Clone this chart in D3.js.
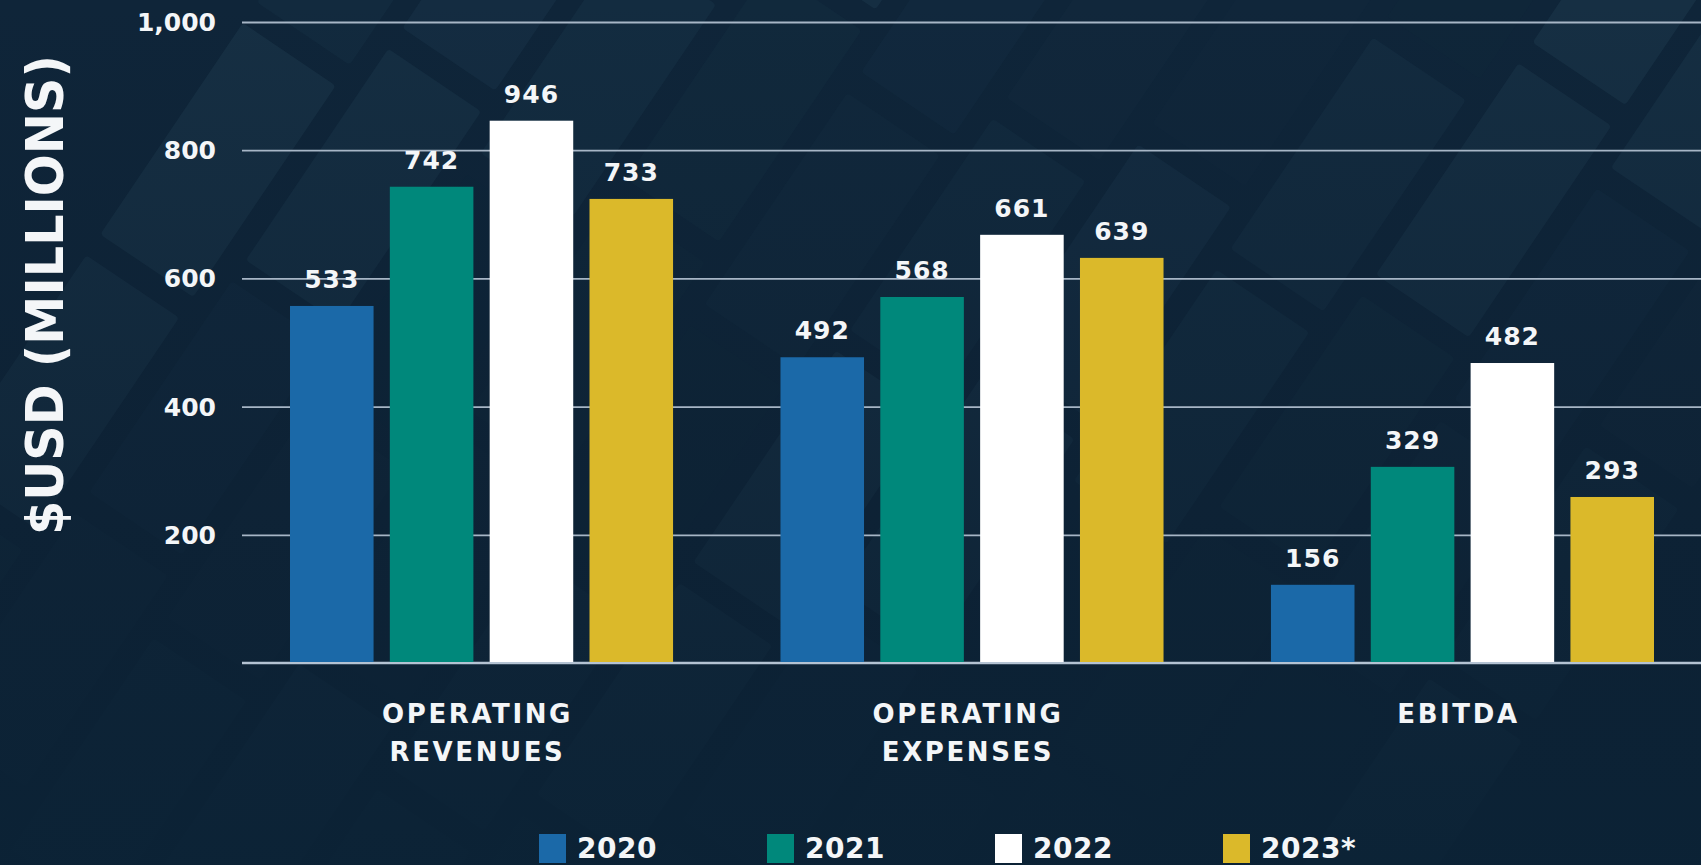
<!DOCTYPE html>
<html>
<head>
<meta charset="utf-8">
<script src="https://cdn.jsdelivr.net/npm/d3@7"></script>
<style>
  html, body { margin: 0; padding: 0; background: #0e2337; overflow: hidden; }
  svg { display: block; }
</style>
</head>
<body>
<div id="chart"></div>
<script>
// Chart data
const categories = [["OPERATING", "REVENUES"], ["OPERATING", "EXPENSES"], ["EBITDA"]];
const years = ["2020", "2021", "2022", "2023*"];
const yearColors = ["#1b69a8", "#00887b", "#ffffff", "#dbb92a"];

// bar heights as drawn in the picture
const bars2020 = [557, 477, 122];
const bars2021 = [743, 571, 306];
const bars2022 = [846, 668, 468];
const bars2023 = [724, 632, 259];

// printed value labels
const labels2020 = [533, 492, 156];
const labels2021 = [742, 568, 329];
const labels2022 = [946, 661, 482];
const labels2023 = [733, 639, 293];

const yTicks = [200, 400, 600, 800, 1000];

const width = 1701;
const height = 865;
const margin = { top: 22, right: 0, bottom: 202, left: 242 };

const svg = d3
  .select("#chart")
  .append("svg")
  .attr("width", width)
  .attr("height", height);

// Background: dark navy with diagonal tiles
const defs = svg.append("defs");
const fade = defs
  .append("linearGradient")
  .attr("id", "fade")
  .attr("x1", 0).attr("y1", 0).attr("x2", 0).attr("y2", 1);
fade.append("stop").attr("offset", "0%").attr("stop-color", "#0b1e30").attr("stop-opacity", 0);
fade.append("stop").attr("offset", "50%").attr("stop-color", "#0b1e30").attr("stop-opacity", 0.4);
fade.append("stop").attr("offset", "100%").attr("stop-color", "#0b2235").attr("stop-opacity", 0.92);

svg.append("rect").attr("width", width).attr("height", height).attr("fill", "#0f2539");

const tileShade = [0.05, 0.35, 0.12, 0.5, 0.2, 0.08, 0.42, 0.15, 0.3, 0.02, 0.25, 0.45, 0.1, 0.38, 0.18];
const tiles = svg.append("g").attr("transform", "translate(850,330) rotate(-56)");
for (let r = -6; r <= 6; r++) {
  for (let c = -5; c <= 5; c++) {
    const k = tileShade[Math.abs(r * 7 + c * 3 + 40) % tileShade.length];
    tiles
      .append("rect")
      .attr("x", r * 280 + (c % 2) * 60)
      .attr("y", c * 135)
      .attr("width", 255)
      .attr("height", 112)
      .attr("rx", 4)
      .attr("fill", "#2f5468")
      .attr("opacity", k * 0.45);
  }
}
svg.append("rect").attr("width", width).attr("height", height).attr("fill", "url(#fade)");

// Scales
const x0 = d3
  .scaleBand()
  .domain(d3.range(categories.length))
  .range([290, 1654])
  .paddingInner(0.219)
  .paddingOuter(0);

const x1 = d3
  .scaleBand()
  .domain(d3.range(years.length))
  .range([0, x0.bandwidth()])
  .paddingInner(0.163)
  .paddingOuter(0);

const y = d3
  .scaleLinear()
  .domain([0, 1000])
  .range([height - margin.bottom, margin.top]);

// Grid + tick labels
const yAxis = svg
  .append("g")
  .attr("transform", `translate(${margin.left},0)`)
  .call(
    d3.axisLeft(y)
      .tickValues(yTicks)
      .tickFormat(d3.format(","))
      .tickSize(-(width - margin.left))
      .tickPadding(26)
  );
yAxis.select(".domain").remove();
yAxis.selectAll(".tick line").attr("stroke", "#a7b6c6").attr("stroke-width", 1.8);
yAxis
  .selectAll(".tick text")
  .attr("fill", "#f4f6f8")
  .attr("font-family", "DejaVu Sans")
  .attr("font-weight", "bold")
  .attr("font-size", 25)
  .attr("dy", "0.34em");

// Baseline
svg
  .append("line")
  .attr("x1", margin.left)
  .attr("x2", width)
  .attr("y1", y(0))
  .attr("y2", y(0))
  .attr("stroke", "#b4c3d3")
  .attr("stroke-width", 2.5);

// Bars
const barSeries = [bars2020, bars2021, bars2022, bars2023];
const labelSeries = [labels2020, labels2021, labels2022, labels2023];

const groups = svg
  .append("g")
  .selectAll("g")
  .data(categories)
  .join("g")
  .attr("transform", (d, i) => `translate(${x0(i)},0)`);

groups
  .selectAll("rect")
  .data((d, i) => years.map((yr, j) => ({ j, v: barSeries[j][i], label: labelSeries[j][i] })))
  .join("rect")
  .attr("x", (d) => x1(d.j))
  .attr("y", (d) => y(d.v))
  .attr("width", x1.bandwidth())
  .attr("height", (d) => y(0) - y(d.v) - 1)
  .attr("fill", (d) => yearColors[d.j]);

// Value labels
groups
  .selectAll("text.val")
  .data((d, i) => years.map((yr, j) => ({ j, v: barSeries[j][i], label: labelSeries[j][i] })))
  .join("text")
  .attr("class", "val")
  .attr("x", (d) => x1(d.j) + x1.bandwidth() / 2)
  .attr("y", (d) => y(d.v) - 18)
  .attr("text-anchor", "middle")
  .attr("fill", "#f4f6f8")
  .attr("font-family", "DejaVu Sans")
  .attr("font-weight", "bold")
  .attr("font-size", 25)
  .attr("letter-spacing", 1)
  .text((d) => d.label);

// Category labels
groups
  .append("text")
  .attr("x", x0.bandwidth() / 2 - 4)
  .attr("y", 723)
  .attr("text-anchor", "middle")
  .attr("fill", "#f4f6f8")
  .attr("font-family", "DejaVu Sans")
  .attr("font-weight", "bold")
  .attr("font-size", 26)
  .attr("letter-spacing", 2.6)
  .selectAll("tspan")
  .data((d) => d)
  .join("tspan")
  .attr("x", x0.bandwidth() / 2 - 4)
  .attr("dy", (d, i) => (i === 0 ? 0 : 37.5))
  .text((d) => d);

// Y axis title
svg
  .append("text")
  .attr("transform", "translate(63,295) rotate(-90)")
  .attr("text-anchor", "middle")
  .attr("fill", "#f4f6f8")
  .attr("font-family", "DejaVu Sans")
  .attr("font-weight", "bold")
  .attr("font-size", 52)
  .attr("textLength", 480)
  .attr("lengthAdjust", "spacingAndGlyphs")
  .text("$USD (MILLIONS)");

// Legend
const legend = svg
  .append("g")
  .selectAll("g")
  .data(years)
  .join("g")
  .attr("transform", (d, i) => `translate(${539 + i * 228},834)`);

legend
  .append("rect")
  .attr("width", 27)
  .attr("height", 29)
  .attr("fill", (d, i) => yearColors[i]);

legend
  .append("text")
  .attr("x", 38)
  .attr("y", 24)
  .attr("fill", "#f4f6f8")
  .attr("font-family", "DejaVu Sans")
  .attr("font-weight", "bold")
  .attr("font-size", 28)
  .attr("letter-spacing", 0.5)
  .text((d) => d);
</script>
</body>
</html>
